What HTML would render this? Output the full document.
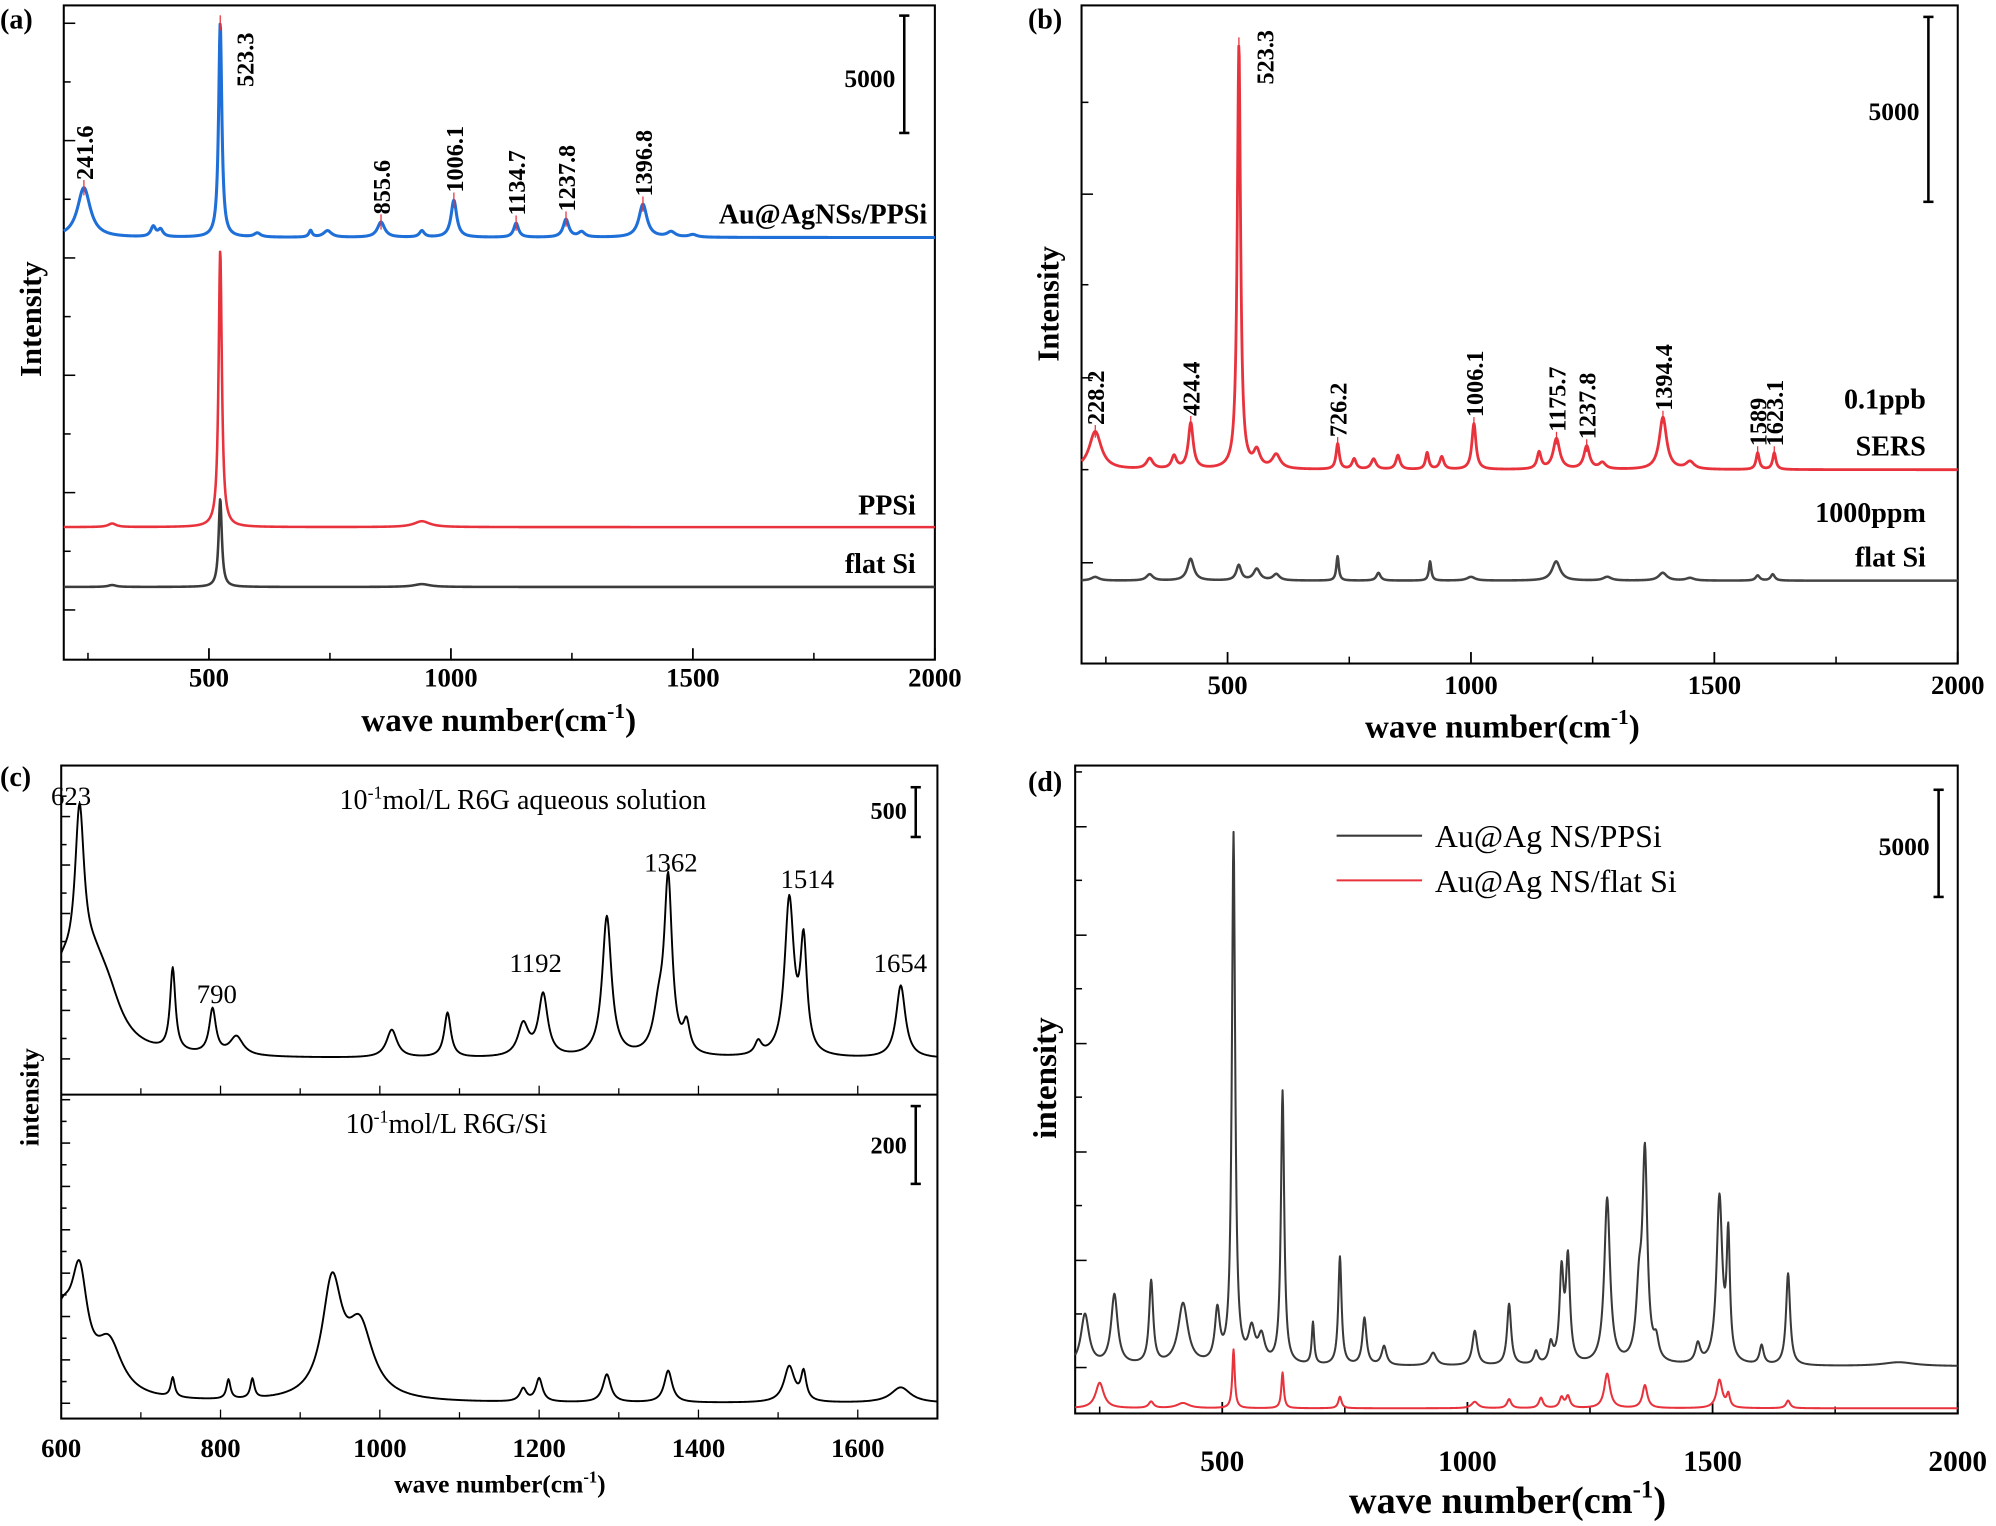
<!DOCTYPE html>
<html><head><meta charset="utf-8"><style>
html,body{margin:0;padding:0;background:#fff}
svg{display:block}
text{font-family:"Liberation Serif",serif}
</style></head><body>
<svg id="fig" width="1996" height="1526" viewBox="0 0 1565 1196" xmlns="http://www.w3.org/2000/svg"></svg>
<script>
// ---------- DATA ----------
// Panel (a)
const aBluePos=[241.6,385,400,523.3,600,710,745,855.6,940,1006.1,1134.7,1237.8,1270,1396.8,1455,1500];
const aBlueAmp=[2120,430,300,9130,170,280,280,650,270,1580,600,760,220,1410,220,110];
const aBlueWid=[16,6,6,4,8,4,10,9,6,7,6,7,8,10,10,10];
const aRedPos=[300,523.3,940];
const aRedAmp=[150,11800,250];
const aRedWid=[10,4,20];
const aBlackPos=[300,523.3,940];
const aBlackAmp=[80,3750,120];
const aBlackWid=[10,4,20];
const aOffsets=[17990,5650,3100];
const aPeakLabels=["241.6","523.3","855.6","1006.1","1134.7","1237.8","1396.8"];
const aTicks=[500,1000,1500,2000];
// Panel (b)
const bRedPos=[228.2,340,390,424.4,523.3,560,600,726.2,760,800,850,910,940,1006.1,1140,1175.7,1237.8,1270,1394.4,1450,1589,1623.1];
const bRedAmp=[1030,280,340,1240,11480,450,380,690,280,280,380,450,340,1240,450,830,620,170,1410,200,450,450];
const bRedWid=[15,8,6,6,4,8,10,4,5,6,5,4,5,5,5,8,7,8,9,10,4,4];
const bBlackPos=[228,340,424,523,560,600,726,810,916,1000,1175,1280,1394,1450,1589,1620];
const bBlackAmp=[100,170,590,410,310,170,660,210,520,100,520,100,210,70,140,170];
const bBlackWid=[10,8,8,6,8,8,3,5,3,10,10,10,10,10,5,5];
const bOffsets=[5240,2240];
const bPeakLabels=["228.2","424.4","523.3","726.2","1006.1","1175.7","1237.8","1394.4","1589","1623.1"];
const bTicks=[500,1000,1500,2000];
// Panel (c)
const cTopPos=[600,623,640,660,740,790,820,1015,1085,1180,1205,1285,1350,1362,1385,1475,1514,1532,1654];
const cTopAmp=[700,1650,700,260,830,450,190,280,450,320,620,1410,380,1730,280,130,1560,1090,730];
const cTopWid=[25,7,25,20,4,5,10,8,5,8,7,7,8,6,5,5,7,5,7];
const cBotPos=[600,623,660,740,810,840,940,975,1200,1180,1285,1362,1514,1532,1654];
const cBotAmp=[200,250,130,50,50,50,290,180,60,33,72,82,92,72,40];
const cBotWid=[20,12,20,3,3,3,15,20,5,5,6,6,8,4,15];
const cLabels=["623","790","1192","1362","1514","1654"];
const cTicks=[600,800,1000,1200,1400,1600];
// Panel (d)
const dBlackPos=[220,280,355,420,490,523,560,580,623,685,740,790,830,930,1015,1085,1140,1170,1192,1205,1285,1350,1362,1385,1470,1514,1532,1600,1654,1880];
const dBlackAmp=[2380,3270,3870,2860,2380,24700,1490,1190,12740,1960,5060,2200,890,600,1610,2860,600,890,4170,4760,7740,2980,9520,890,890,7740,5650,890,4290,180];
const dBlackWid=[10,8,5,12,6,4,8,8,4,3,4,5,6,8,6,5,5,5,5,5,7,7,6,6,6,7,4,5,5,40];
const dRedPos=[250,355,420,523,623,740,1015,1085,1150,1192,1205,1285,1362,1514,1532,1654];
const dRedAmp=[1190,300,240,2740,1670,540,300,420,480,480,540,1610,1070,1310,600,360];
const dRedWid=[10,6,15,3,3,4,8,5,5,5,5,7,6,7,4,5];
const dOffsets=[2200,240];
const dTicks=[500,1000,1500,2000];
const dLegend=["Au@Ag NS/PPSi","Au@Ag NS/flat Si"];

// ---------- HELPERS ----------
const svg=document.getElementById('fig');
const NS="http://www.w3.org/2000/svg";
function el(tag,attrs,parent){const e=document.createElementNS(NS,tag);for(const k in attrs)e.setAttribute(k,attrs[k]);(parent||svg).appendChild(e);return e;}
function txt(s,attrs,parent){const e=el('text',attrs,parent);e.textContent=s;return e;}
function spectrum(x,pos,amp,wid,off){let v=off;for(let i=0;i<pos.length;i++){const d=(x-pos[i])/wid[i];v+=amp[i]/(1+d*d);}return v;}
function linScale(d0,d1,r0,r1){return v=>r0+(v-d0)*(r1-r0)/(d1-d0);}
function drawSeries(g,name,color,sw,xs,ys,x0,x1,pos,amp,wid,off){
  let d="";for(let x=x0;x<=x1;x+=1){const y=ys(spectrum(x,pos,amp,wid,off));d+=(x===x0?"M":"L")+xs(x).toFixed(2)+","+y.toFixed(2);}
  const p=el('path',{d:d,fill:'none',stroke:color,'stroke-width':sw,'stroke-linejoin':'round'},g);
  
  
  return p;
}
function box(g,l,t,r,b){const e=el('rect',{x:l,y:t,width:r-l,height:b-t,fill:'none',stroke:'#000','stroke-width':1.6},g);}
function xTicks(g,xs,ticks,minor,b,len,ly,fs){
  ticks.forEach(t=>{el('line',{x1:xs(t),x2:xs(t),y1:b,y2:b-len,stroke:'#000','stroke-width':1.4},g);
    const tl=txt(String(t),{x:xs(t),y:ly,'text-anchor':'middle','font-size':fs,'font-weight':'bold'},g);
    });
  minor.forEach(t=>el('line',{x1:xs(t),x2:xs(t),y1:b,y2:b-len*0.6,stroke:'#000','stroke-width':1.2},g));
}
function yTicks(g,l,ys,len){ys.forEach((y,i)=>el('line',{x1:l,x2:l+(i%2?len*0.6:len),y1:y,y2:y,stroke:'#000','stroke-width':1.2},g));}
function scaleBar(g,x,y0,y1,label,lx,ly,fs){
  el('line',{x1:x,x2:x,y1:y0,y2:y1,stroke:'#000','stroke-width':2},g);
  el('line',{x1:x-4,x2:x+4,y1:y0,y2:y0,stroke:'#000','stroke-width':2},g);
  el('line',{x1:x-4,x2:x+4,y1:y1,y2:y1,stroke:'#000','stroke-width':2},g);
  const t=txt(label,{x:lx,y:ly,'text-anchor':'end','font-size':fs,'font-weight':'bold'},g);
  
}
function vlabel(g,s,x,y,fs,bold,name){const t=txt(s,{x:0,y:0,transform:`translate(${x},${y}) rotate(-90)`,'font-size':fs,'font-weight':bold?'bold':'normal','text-anchor':'start'},g);return t;}
function group(name){const g=el('g',{});return g;}
function panelLetter(g,s,x,y){const t=txt(s,{x:x,y:y,'font-size':22,'font-weight':'bold','font-family':'Liberation Sans, sans-serif'},g);}
function xTitle(g,x,y,fs,name){const t=el('text',{x:x,y:y,'text-anchor':'middle','font-size':fs,'font-weight':'bold'},g);t.innerHTML='wave number(cm<tspan dy="-'+(fs*0.4)+'" font-size="'+(fs*0.65)+'">-1</tspan><tspan dy="'+(fs*0.4)+'">)</tspan>';}

// ---------- PANEL A ----------
(function(){
  const g=group('panel-a');
  const L=50,R=733,T=4,B=517;
  const xs=linScale(200,2000,L,R);const ys=v=>B-v*0.0184;
  box(g,L,T,R,B);
  xTicks(g,xs,aTicks,[250,750,1250,1750],B,9,538,21);
  yTicks(g,L,[478,432,386,340,294,248,202,156,110,64,18],9);
  drawSeries(g,'series-flat-si','#3c3c3c',2,xs,ys,200,2000,aBlackPos,aBlackAmp,aBlackWid,aOffsets[2]);
  drawSeries(g,'series-ppsi','#e8323c',2,xs,ys,200,2000,aRedPos,aRedAmp,aRedWid,aOffsets[1]);
  drawSeries(g,'series-au-ag-ppsi','#1f6fd8',2.4,xs,ys,200,2000,aBluePos,aBlueAmp,aBlueWid,aOffsets[0]);
  aPeakLabels.forEach(s=>{const v=parseFloat(s);const y=ys(spectrum(v,aBluePos,aBlueAmp,aBlueWid,aOffsets[0]));
    el('line',{x1:xs(v),x2:xs(v),y1:y-6,y2:y+6,stroke:'#e8323c','stroke-width':1},g);
    if(s==="523.3")vlabel(g,s,xs(v)+26,68,19,true,'peak-label');else vlabel(g,s,xs(v)+7,y-6,19,true,'peak-label');});
  scaleBar(g,709,12,104,'5000',702,68,20);
  const t1=txt('Au@AgNSs/PPSi',{x:727,y:175,'text-anchor':'end','font-size':22,'font-weight':'bold'},g);
  const t2=txt('PPSi',{x:718,y:403,'text-anchor':'end','font-size':22,'font-weight':'bold'},g);
  const t3=txt('flat Si',{x:718,y:449,'text-anchor':'end','font-size':22,'font-weight':'bold'},g);
  xTitle(g,391,573,26,'x-axis-title');
  const yt=txt('Intensity',{x:0,y:0,transform:'translate(32,250) rotate(-90)','text-anchor':'middle','font-size':24,'font-weight':'bold'},g);
  panelLetter(g,'(a)',0,22);
})();

// ---------- PANEL B ----------
(function(){
  const g=group('panel-b');
  const L=848,R=1535,T=4,B=520;
  const xs=linScale(200,2000,L,R);const ys=v=>B-v*0.029;
  box(g,L,T,R,B);
  xTicks(g,xs,bTicks,[250,750,1250,1750],B,9,544,21);
  yTicks(g,L,[441,368,296,223,152,80],9);
  drawSeries(g,'series-flat-si-1000ppm','#444',2,xs,ys,200,2000,bBlackPos,bBlackAmp,bBlackWid,bOffsets[1]);
  drawSeries(g,'series-sers-0-1ppb','#e8323c',2.2,xs,ys,200,2000,bRedPos,bRedAmp,bRedWid,bOffsets[0]);
  bPeakLabels.forEach(s=>{const v=parseFloat(s);const y=ys(spectrum(v,bRedPos,bRedAmp,bRedWid,bOffsets[0]));
    el('line',{x1:xs(v),x2:xs(v),y1:y-5,y2:y+5,stroke:'#e8323c','stroke-width':1},g);
    if(s==="523.3")vlabel(g,s,xs(v)+27,66,19,true,'peak-label');else vlabel(g,s,xs(v)+7,y-5,19,true,'peak-label');});
  scaleBar(g,1512,13,158,'5000',1505,94,20);
  [['0.1ppb',320],['SERS',357],['1000ppm',409],['flat Si',444]].forEach(a=>{const t=txt(a[0],{x:1510,y:a[1],'text-anchor':'end','font-size':22,'font-weight':'bold'},g);});
  xTitle(g,1178,578,26,'x-axis-title');
  const yt=txt('Intensity',{x:0,y:0,transform:'translate(830,238) rotate(-90)','text-anchor':'middle','font-size':24,'font-weight':'bold'},g);
  panelLetter(g,'(b)',806,22);
})();

// ---------- PANEL C ----------
(function(){
  const g=group('panel-c');
  const L=48,R=735,T=600,M=858,B=1112;
  const xs=linScale(600,1700,L,R);
  const ysTop=v=>830-v*0.078;const ysBot=v=>1100-v*0.305;
  box(g,L,T,R,B);
  el('line',{x1:L,x2:R,y1:M,y2:M,stroke:'#000','stroke-width':1.6},g);
  cTicks.forEach(t=>{el('line',{x1:xs(t),x2:xs(t),y1:B,y2:B-7,stroke:'#000'},g);el('line',{x1:xs(t),x2:xs(t),y1:M,y2:M-7,stroke:'#000'},g);
    const tl=txt(String(t),{x:xs(t),y:1142,'text-anchor':'middle','font-size':21,'font-weight':'bold'},g);});
  [700,900,1100,1300,1500].forEach(t=>{el('line',{x1:xs(t),x2:xs(t),y1:B,y2:B-5,stroke:'#000'},g);el('line',{x1:xs(t),x2:xs(t),y1:M,y2:M-5,stroke:'#000'},g);});
  yTicks(g,L,[830,814,792,776,754,738,716,700,678,662,640,624],7);
  yTicks(g,L,[1100,1083,1066,1049,1032,1015,998,981,964,947,930,913,896,879,862],7);
  drawSeries(g,'series-r6g-solution','#000',1.5,xs,ysTop,600,1700,cTopPos,cTopAmp,cTopWid,0);
  drawSeries(g,'series-r6g-si','#000',1.5,xs,ysBot,600,1700,cBotPos,cBotAmp,cBotWid,0);
  const lx=[40,170,420,526,633,706],ly=[631,786,762,683,696,762];
  cLabels.forEach((s,i)=>{const t=txt(s,{x:lx[i],y:ly[i],'text-anchor':i===0?'start':'middle','font-size':21},g);});
  const h1=el('text',{x:410,y:634,'text-anchor':'middle','font-size':22},g);h1.innerHTML='10<tspan dy="-8" font-size="14">-1</tspan><tspan dy="8">mol/L R6G aqueous solution</tspan>';
  const h2=el('text',{x:350,y:888,'text-anchor':'middle','font-size':22},g);h2.innerHTML='10<tspan dy="-8" font-size="14">-1</tspan><tspan dy="8">mol/L R6G/Si</tspan>';
  scaleBar(g,718,617,656,'500',711,642,19);
  scaleBar(g,718,867,928,'200',711,904,19);
  xTitle(g,392,1170,20,'x-axis-title');
  const yt=txt('intensity',{x:0,y:0,transform:'translate(30,860) rotate(-90)','text-anchor':'middle','font-size':21,'font-weight':'bold'},g);
  panelLetter(g,'(c)',0,616);
})();

// ---------- PANEL D ----------
(function(){
  const g=group('panel-d');
  const L=843,R=1535,T=600,B=1108;
  const xs=linScale(200,2000,L,R);const ys=v=>B-v*0.0168;
  box(g,L,T,R,B);
  xTicks(g,xs,dTicks,[250,750,1250,1750],B,9,1153,23);
  yTicks(g,L,[1072,1030,988,945,903,860,818,775,733,690,648,605],9);
  drawSeries(g,'series-flat-si','#e8323c',1.6,xs,ys,200,2000,dRedPos,dRedAmp,dRedWid,dOffsets[1]);
  drawSeries(g,'series-ppsi','#3a3a3a',1.6,xs,ys,200,2000,dBlackPos,dBlackAmp,dBlackWid,dOffsets[0]);
  const cols=['#3a3a3a','#e8323c'];
  dLegend.forEach((s,i)=>{const y=655+i*35;const ln=el('line',{x1:1048,x2:1115,y1:y,y2:y,stroke:cols[i],'stroke-width':1.6},g);
    const t=txt(s,{x:1125,y:y+9,'font-size':25},g);});
  scaleBar(g,1520,619,703,'5000',1513,670,20);
  xTitle(g,1182,1186,30,'x-axis-title');
  const yt=txt('intensity',{x:0,y:0,transform:'translate(828,845) rotate(-90)','text-anchor':'middle','font-size':26,'font-weight':'bold'},g);
  panelLetter(g,'(d)',806,620);
})();
</script>
</body></html>
